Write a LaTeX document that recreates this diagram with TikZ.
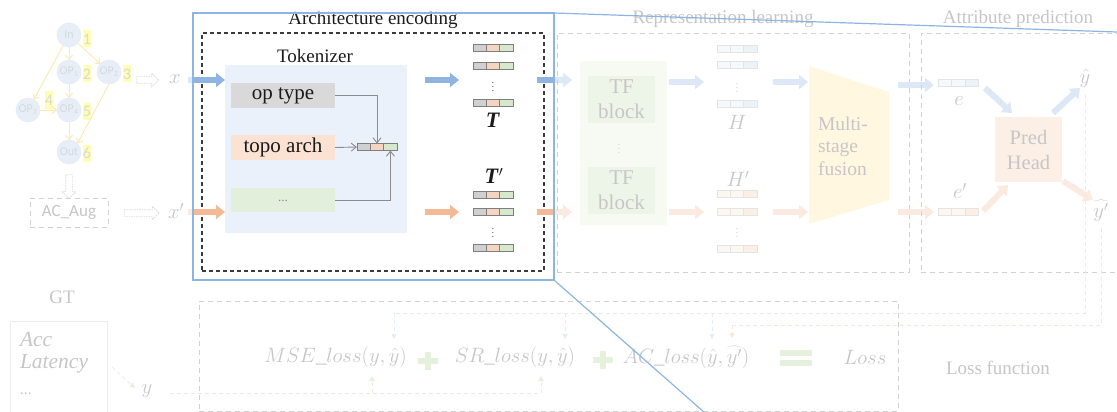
\documentclass[tikz,border=0pt]{standalone}
\usepackage{fontspec}
\setmainfont{Liberation Serif}
\newfontfamily\calfont{Carlito}
\usetikzlibrary{arrows.meta,shapes.arrows,calc}

\newcommand\fsz[2]{\fontsize{#1}{#2}\selectfont}

% palette
\definecolor{frameblue}{HTML}{8EB4E3}
\definecolor{arrblue}{HTML}{8FB4E2}
\definecolor{arrorange}{HTML}{F4B996}
\definecolor{tokbgc}{HTML}{EAF1FA}
\definecolor{boxgray}{HTML}{D9D9D9}
\definecolor{boxpeach}{HTML}{FBE2D2}
\definecolor{boxgreen}{HTML}{E2EFDA}
\definecolor{cg}{HTML}{D0D0D0}
\definecolor{cp}{HTML}{F6D5C0}
\definecolor{cgr}{HTML}{D6E9CD}
\definecolor{cellb}{HTML}{7F7F7F}
\definecolor{tkgray}{HTML}{8C8C8C}
\definecolor{ink}{HTML}{1A1A1A}
\definecolor{fink}{HTML}{404040}
\definecolor{dashgray}{HTML}{666666}
\definecolor{dkdash}{HTML}{3A3A3A}
\definecolor{circf}{HTML}{B4C7E7}
\definecolor{circb}{HTML}{9DC3E6}
\definecolor{circt}{HTML}{6F7F96}
\definecolor{amber}{HTML}{F5B800}
\definecolor{hly}{HTML}{FFFF00}
\definecolor{numt}{HTML}{808080}
\definecolor{tfout}{HTML}{E2F0D9}
\definecolor{tfin}{HTML}{C5E0B4}
\definecolor{hb1}{HTML}{DEEBF7}
\definecolor{hb2}{HTML}{BDD7EE}
\definecolor{hp1}{HTML}{FBE5D6}
\definecolor{hp2}{HTML}{F8CBAD}
\definecolor{hcell}{HTML}{A6A6A6}
\definecolor{fusionc}{HTML}{FFE699}
\definecolor{predc}{HTML}{F8CBAD}
\definecolor{plusg}{HTML}{A9D18E}
\definecolor{bdashc}{HTML}{9DC3E6}
\definecolor{odashc}{HTML}{F4B183}
\definecolor{gdashc}{HTML}{A9D18E}
\definecolor{gtbox}{HTML}{BFBFBF}
\definecolor{hollowc}{HTML}{7F7F7F}

% a token: three coloured cells side by side
\newcommand\tokrow[7]{%
  \node[cell,draw=#7,fill=#4] (#1-1) at ({#2-13.4},#3) {};
  \node[cell,draw=#7,fill=#5] (#1-2) at (#2,#3) {};
  \node[cell,draw=#7,fill=#6] (#1-3) at ({#2+13.4},#3) {};}

\begin{document}
\begin{tikzpicture}[x=1pt,y=-1pt,
  every node/.style={inner sep=0pt,outer sep=0pt},
  circ/.style={circle,draw=circb,line width=0.6pt,fill=circf,minimum size=24pt,
    font=\calfont\fsz{12}{12},text=circt},
  numl/.style={fill=hly,minimum width=8pt,minimum height=17pt,font=\calfont\fsz{16}{16},text=numt},
  gedge/.style={draw=amber,line width=1pt,-{Straight Barb[length=4pt,width=7pt]}},
  hollow/.style={single arrow,draw=hollowc,line width=0.7pt,dash pattern=on 1.5pt off 1pt,
    fill=white,single arrow head extend=3.5pt,inner xsep=0pt,inner ysep=3pt,
    single arrow head indent=0pt},
  mlab/.style={text=fink,font=\fsz{22}{22}},
  ttl/.style={text=fink,font=\fsz{19}{19}},
  bluearr/.style={draw=arrblue,line width=6pt,-{Triangle[length=9pt,width=14pt]}},
  orarr/.style={draw=arrorange,line width=6pt,-{Triangle[length=9pt,width=14pt]}},
  cell/.style={line width=0.7pt,minimum width=13.4pt,minimum height=7pt},
  tkarr/.style={draw=tkgray,line width=0.9pt,-{Straight Barb[length=5pt,width=8pt]}},
  fbox/.style={draw=dashgray,line width=0.9pt,dash pattern=on 5pt off 4pt},
  bdash/.style={draw=bdashc,line width=0.8pt,dash pattern=on 4pt off 3pt},
  odash/.style={draw=odashc,line width=0.8pt,dash pattern=on 4pt off 3pt},
  gdash/.style={draw=gdashc,line width=0.8pt,dash pattern=on 4pt off 3pt},
  smalltip/.style={-{Triangle[length=5pt,width=5pt]}},
  callout/.style={draw=frameblue,line width=1.2pt}]

\useasboundingbox (0,0) rectangle (1117,412);
\clip (0,0) rectangle (1117,412);

% ---------------- input cell graph
\node[circ] (in)  at (69,35)  {In};
\node[circ] (op1) at (69,72)  {OP\textsubscript{1}};
\node[circ] (op2) at (109,72) {OP\textsubscript{2}};
\node[circ] (op3) at (28,110) {OP\textsubscript{3}};
\node[circ] (op4) at (69,110) {OP\textsubscript{4}};
\node[circ] (out) at (69,152) {Out};
\node[numl] (n1) at (87,39)  {1};
\node[numl] (n2) at (87,74)  {2};
\node[numl] (n3) at (127,74) {3};
\node[numl] (n4) at (49,100) {4};
\node[numl] (n5) at (87,111) {5};
\node[numl] (n6) at (87,153) {6};
\draw[gedge] (in) -- (op1);
\draw[gedge] (in) -- (op2);
\draw[gedge] (in) -- (op3);
\draw[gedge] (op1) -- (op4);
\draw[gedge] (op3) -- (op4);
\draw[gedge] (op4) -- (out);
\draw[gedge] (op2.south) -- (out.north east);

\node[hollow,minimum height=22pt] (h1) at (146,80) {};
\node[mlab] (xl) at (175,79) {$x$};
\node[hollow,minimum height=24pt,rotate=-90] (h2) at (69,185) {};
\node[fbox,minimum width=78pt,minimum height=29pt,font=\calfont\fsz{17}{17},text=fink]
  (acaug) at (69,212.5) {AC\_Aug};
\node[hollow,minimum height=35pt] (h3) at (140,213) {};
\node[mlab] (xp) at (176,211) {$x'$};

% ---------------- architecture encoding
\node[text=ink,font=\fsz{19}{19}] (aetitle) at (373,20) {Architecture encoding};
\node[draw=dkdash,line width=1.2pt,dash pattern=on 4pt off 3pt,
  minimum width=342pt,minimum height=238pt] (aebox) at (373,152) {};
\node[fill=tokbgc,minimum width=182pt,minimum height=168pt] (tokbg) at (316,149) {};
\node[text=ink,font=\fsz{19}{19}] (toklab) at (315,56) {Tokenizer};
\node[fill=boxgray,minimum width=104pt,minimum height=25pt,text=ink,font=\fsz{21}{21}]
  (optype) at (283,95.5) {op type};
\node[fill=boxpeach,minimum width=104pt,minimum height=25pt,text=ink,font=\fsz{21}{21}]
  (topo) at (283,147.5) {topo arch};
\node[fill=boxgreen,minimum width=104pt,minimum height=24pt,text=tkgray,font=\fsz{13}{13}]
  (dots) at (283,200) {\raisebox{-4pt}{...}};
\tokrow{tk}{377}{147}{cg}{cp}{cgr}{cellb}
\draw[tkarr] (optype.east) -| (tk-2.north);
\draw[tkarr] (topo.east) -- (tk-1.west);
\draw[tkarr] (dots.east) -| (tk-3.south);

\coordinate (xin) at (188,80);
\coordinate (xpin) at (188,212);
\draw[bluearr] (xin) -- (xin -| tokbg.west);
\draw[orarr] (xpin) -- (xpin -| tokbg.west);
\coordinate (tA) at (459,80);
\coordinate (tB) at (459,212);
\draw[bluearr] ([xshift=18pt]tokbg.east |- tA) -- (tA);
\draw[orarr] ([xshift=18pt]tokbg.east |- tB) -- (tB);

\tokrow{ta}{493}{48}{cg}{cp}{cgr}{cellb}
\tokrow{tb}{493}{66}{cg}{cp}{cgr}{cellb}
\node[text=ink,font=\fsz{9}{9}] (tdots) at (493,84) {$\vdots$};
\tokrow{tc}{493}{103}{cg}{cp}{cgr}{cellb}
\node[text=ink,font=\fsz{22}{22}] (T) at (493,120) {\textbf{\textit{T}}};
\node[text=ink,font=\fsz{22}{22}] (Tp) at (494,176) {\textbf{\textit{T}}$^{\prime}$};
\tokrow{td}{493}{195}{cg}{cp}{cgr}{cellb}
\tokrow{te}{493}{212}{cg}{cp}{cgr}{cellb}
\node[text=ink,font=\fsz{9}{9}] (tdots2) at (493,230) {$\vdots$};
\tokrow{tf}{493}{248}{cg}{cp}{cgr}{cellb}

\coordinate (rA0) at (537,80);  \coordinate (rA1) at (572,80);
\coordinate (rB0) at (537,212); \coordinate (rB1) at (572,212);
\draw[bluearr] (rA0) -- (rA1);
\draw[orarr] (rB0) -- (rB1);

% ---------------- representation learning
\node[ttl] (rltitle) at (723,19) {Representation learning};
\node[fbox,minimum width=352pt,minimum height=239pt] (rlbox) at (733,152.5) {};
\node[fill=tfout,minimum width=87pt,minimum height=164pt,rounded corners=2pt] (tfo) at (623.5,143) {};
\node[fill=tfin,minimum width=67pt,minimum height=47pt,align=center,text=fink,font=\fsz{21}{25}]
  (tf1) at (621.5,99.5) {TF\\block};
\node[fill=tfin,minimum width=67pt,minimum height=47pt,align=center,text=fink,font=\fsz{21}{25}]
  (tf2) at (621.5,190) {TF\\block};
\node[text=fink,font=\fsz{9}{9}] (tfdots) at (619,146) {$\vdots$};
\coordinate (hA) at (704,82);
\coordinate (hB) at (704,212);
\draw[bluearr] ([xshift=2pt]tfo.east |- hA) -- (hA);
\draw[orarr] ([xshift=2pt]tfo.east |- hB) -- (hB);

\tokrow{ha}{737}{49}{hb1}{hb1}{hb2}{hcell}
\tokrow{hb}{737}{65}{hb1}{hb1}{hb2}{hcell}
\node[text=fink,font=\fsz{9}{9}] (hdots) at (737,85) {$\vdots$};
\tokrow{hc}{737}{104}{hb1}{hb1}{hb2}{hcell}
\node[mlab] (H) at (737,122) {$H$};
\node[mlab] (Hp) at (738,179) {$H'$};
\tokrow{hd}{737}{194}{hp1}{hp1}{hp2}{hcell}
\tokrow{he}{737}{212}{hp1}{hp1}{hp2}{hcell}
\node[text=fink,font=\fsz{9}{9}] (hdots2) at (737,230) {$\vdots$};
\tokrow{hf}{737}{249}{hp1}{hp1}{hp2}{hcell}

\coordinate (fA0) at (773,82);  \coordinate (fA1) at (808,82);
\coordinate (fB0) at (773,212); \coordinate (fB1) at (808,212);
\draw[bluearr] (fA0) -- (fA1);
\draw[orarr] (fB0) -- (fB1);

\fill[fusionc] (809,66) -- (889,92) -- (889,200) -- (809,224) -- cycle;
\node[anchor=west,align=left,text=fink,font=\fsz{19.5}{22.5}] (fusion) at (818,146) {Multi-\\stage\\fusion};

\coordinate (eA0) at (898,85);  \coordinate (eA1) at (934,85);
\coordinate (eB0) at (898,212); \coordinate (eB1) at (934,212);
\draw[bluearr] (eA0) -- (eA1);
\draw[orarr] (eB0) -- (eB1);

% ---------------- attribute prediction
\node[ttl] (aptitle) at (1018,19) {Attribute prediction};
\node[fbox,minimum width=219pt,minimum height=239pt] (apbox) at (1030.5,152.5) {};
\tokrow{ea}{958.5}{83}{hb1}{hb1}{hb2}{hcell}
\node[mlab] (e) at (959,101) {$e$};
\node[mlab] (ep) at (960,191) {$e'$};
\tokrow{eb}{958.5}{212}{hp1}{hp1}{hp2}{hcell}
\node[fill=predc,minimum width=67pt,minimum height=65pt,align=center,text=fink,font=\fsz{20.5}{25}]
  (pred) at (1028.5,149.5) {Pred\\Head};
\coordinate (pa0) at (985,88);   \coordinate (pa1) at (1012,113);
\coordinate (pb0) at (1053,113); \coordinate (pb1) at (1080,88);
\coordinate (pc0) at (983,211);  \coordinate (pc1) at (1008,185);
\coordinate (pd0) at (1063,181); \coordinate (pd1) at (1093,200);
\draw[bluearr] (pa0) -- (pa1);
\draw[bluearr] (pb0) -- (pb1);
\draw[orarr] (pc0) -- (pc1);
\draw[orarr] (pd0) -- (pd1);
\node[mlab] (yhat) at (1085,78) {$\hat{y}$};
\node[mlab] (yhat2) at (1101,211) {$\widehat{y'}$};

% ---------------- ground truth and loss
\node[ttl] (gt) at (62,297) {GT};
\node[draw=gtbox,line width=0.8pt,minimum width=97pt,minimum height=110pt] (gtbox) at (58.5,376) {};
\node[anchor=west,text=fink,font=\fsz{21.5}{21.5}\itshape] (acc) at (20,340) {Acc};
\node[anchor=west,text=fink,font=\fsz{21.5}{21.5}\itshape] (lat) at (20,364) {Latency};
\node[anchor=west,text=fink,font=\fsz{16}{16}\itshape] (gdots) at (20,394) {...};
\node[mlab] (ylab) at (147,391) {$y$};
\coordinate (gt0) at (112,367); \coordinate (gt1) at (135,388);
\draw[gdash,smalltip] (gt0) -- (gt1);

\node[fbox,minimum width=699pt,minimum height=110pt] (lossbox) at (548.5,356) {};
\node[text=fink,font=\fsz{20.5}{20.5}] (mse) at (335.5,357) {$MSE\_loss(y,\hat{y})$};
\node[text=fink,font=\fsz{20.5}{20.5}] (sr) at (515,357) {$SR\_loss(y,\hat{y})$};
\node[text=fink,font=\fsz{20.5}{20.5}] (ac) at (686,357) {$AC\_loss(\hat{y},\widehat{y'})$};
\node[text=fink,font=\fsz{20.5}{20.5}] (loss) at (865,357) {$Loss$};
\node[fill=plusg,minimum width=20pt,minimum height=6pt] (p1h) at (428,361) {};
\node[fill=plusg,minimum width=6pt,minimum height=18pt] (p1v) at (428,361) {};
\node[fill=plusg,minimum width=20pt,minimum height=6pt] (p2h) at (603,360) {};
\node[fill=plusg,minimum width=6pt,minimum height=18pt] (p2v) at (603,360) {};
\node[fill=plusg,minimum width=32pt,minimum height=6pt] (eq1) at (796,353) {};
\node[fill=plusg,minimum width=32pt,minimum height=6pt] (eq2) at (796,363) {};
\node[ttl] (lf) at (998,368) {Loss function};

% feedback of the predictions into the loss terms
\coordinate (bl) at (394,313); \coordinate (bm) at (565,313); \coordinate (ba) at (712,313);
\coordinate (mseY) at (394,339); \coordinate (srY) at (565,339); \coordinate (acY) at (712,339);
\draw[bdash] ([yshift=-8pt]yhat.south) |- (bl);
\draw[bdash,smalltip] (bl) -- (mseY);
\draw[bdash,smalltip] (bm) -- (srY);
\draw[bdash,smalltip] (ba) -- (acY);
\coordinate (oa) at (732,325); \coordinate (acY2) at (732,338);
\draw[odash] ([yshift=-6pt]yhat2.south) |- (oa);
\draw[odash,smalltip] (oa) -- (acY2);
\coordinate (g0) at (170,393); \coordinate (g1) at (372,393); \coordinate (g2) at (541,393);
\coordinate (mseyy) at (372,376); \coordinate (sryy) at (541,376);
\draw[gdash] (g0) -- (g2);
\draw[gdash,smalltip] (g1) -- (mseyy);
\draw[gdash,smalltip] (g2) -- (sryy);

% ---------------- wash over everything outside the highlighted stage
\fill[white,opacity=0.7,even odd rule] (0,0) rectangle (1117,412) (193,13) rectangle (554,280);

\node[draw=frameblue,line width=1.5pt,minimum width=361pt,minimum height=267pt] (frame) at (373.5,146.5) {};
\coordinate (c1) at (1117,32);
\coordinate (c2) at (705,413);
\draw[callout] (frame.north east) -- (c1);
\draw[callout] (frame.south east) -- (c2);
\end{tikzpicture}
\end{document}
